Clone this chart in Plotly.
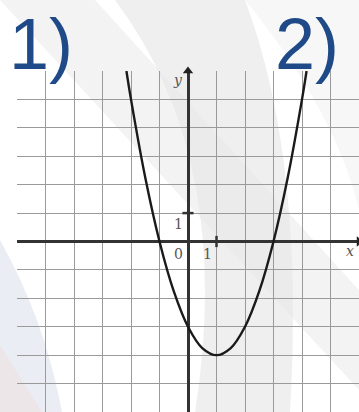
import plotly.graph_objects as go

# points (grid units)
curve_x = [-2.16, -2, -1.5, -1, -0.5, 0, 0.5, 1, 1.5, 2, 2.5, 3, 3.5, 4, 4.16]
curve_y = [6, 5, 2.25, 0, -1.75, -3, -3.75, -4, -3.75, -3, -1.75, 0, 2.25, 5, 6]

axis_range = [-6, 6]
tick_labels = ["0", "1", "1"]
axis_names = ["x", "y"]
task_labels = ["1)", "2)"]

W, H = 359, 412
L, T = 17, 71  # plot area offset in px


def px(x, y):
    # pixel position -> paper coords
    return (x - L) / (W - L), (H - y) / (H - T)


def path(points):
    parts = []
    for cmd, pts in points:
        coords = " ".join("%.4f,%.4f" % px(*p) for p in pts)
        parts.append(cmd + " " + coords)
    return " ".join(parts) + " Z"


fig = go.Figure()

# background swooshes (faint)
bg = [
    (path([("M", [(0, 0)]), ("L", [(95, 0)]), ("L", [(359, 290)]), ("L", [(359, 390)])]), "#ededed"),
    (path([("M", [(115, 0)]), ("Q", [(235, 160), (195, 412)]), ("L", [(290, 412)]), ("Q", [(305, 160), (245, 0)])]), "#e6e6e6"),
    (path([("M", [(245, 0)]), ("Q", [(335, 110), (359, 210)]), ("L", [(359, 0)])]), "#f3f3f3"),
    (path([("M", [(0, 240)]), ("Q", [(45, 320), (62, 412)]), ("L", [(0, 412)])]), "#dfe4ee"),
    (path([("M", [(0, 345)]), ("L", [(42, 412)]), ("L", [(0, 412)])]), "#eee2e2"),
]
for p, c in bg:
    fig.add_shape(type="path", path=p, xref="paper", yref="paper",
                  fillcolor=c, line=dict(width=0), layer="below", opacity=0.65)

fig.add_trace(go.Scatter(
    x=curve_x, y=curve_y, mode="lines",
    line=dict(color="#1a1a1a", width=2.4, shape="spline"),
    showlegend=False, hoverinfo="skip",
))

# tick marks at 1
fig.add_trace(go.Scatter(
    x=[0, 1], y=[1, 0], mode="markers",
    marker=dict(symbol=["line-ew", "line-ns"], size=8,
                line=dict(color="#333", width=2.5)),
    showlegend=False, hoverinfo="skip",
))

# arrow heads
fig.add_trace(go.Scatter(
    x=[0, axis_range[1]], y=[axis_range[1], 0], mode="markers",
    marker=dict(symbol=["triangle-up", "triangle-right"], size=9, color="#222"),
    cliponaxis=False, showlegend=False, hoverinfo="skip",
))

lab_font = dict(family="DejaVu Serif", size=14, color="#555")
fig.add_annotation(x=-0.35, y=-0.45, text=tick_labels[0], showarrow=False, font=lab_font)
fig.add_annotation(x=0.7, y=-0.45, text=tick_labels[1], showarrow=False, font=lab_font)
fig.add_annotation(x=-0.35, y=0.6, text=tick_labels[2], showarrow=False, font=lab_font)
fig.add_annotation(x=5.7, y=-0.35, text="<i>" + axis_names[0] + "</i>", showarrow=False, font=lab_font)
fig.add_annotation(x=-0.35, y=5.7, text="<i>" + axis_names[1] + "</i>", showarrow=False, font=lab_font)

big = dict(family="Liberation Sans", size=72, color="#1f4a87")
for lbl, cx in zip(task_labels, [41, 307]):
    ax, ay = px(cx, 2)
    fig.add_annotation(x=ax, y=ay, xref="paper", yref="paper", text=lbl,
                       showarrow=False, font=big, xanchor="center", yanchor="top")

ax_style = dict(
    range=axis_range, dtick=1, showgrid=True, gridcolor="#9a9a9a", gridwidth=1,
    zeroline=True, zerolinecolor="#333", zerolinewidth=2.5,
    showticklabels=False, ticks="", showline=False, fixedrange=True,
)
fig.update_layout(
    width=W, height=H,
    margin=dict(l=L, r=0, t=T, b=0),
    paper_bgcolor="white",
    plot_bgcolor="rgba(0,0,0,0)",
    xaxis=ax_style,
    yaxis=ax_style,
    showlegend=False,
)

# drop the default page margin so the figure sits at the window's corner
fig.write_html("out.html", post_script="document.body.style.margin='0';",
               config={"displayModeBar": False})
